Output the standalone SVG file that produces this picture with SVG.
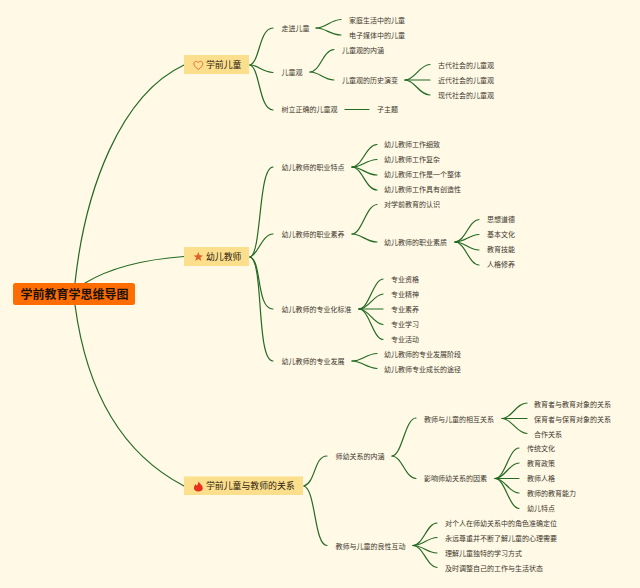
<svg xmlns="http://www.w3.org/2000/svg" width="640" height="588" viewBox="0 0 640 588">
<style>
text{font-family:"Noto Sans CJK SC","Noto Sans",sans-serif;dominant-baseline:central;transform:translateY(-.8px)}
.t0{font-size:12px;font-weight:700;fill:#1c1206}
.t1{font-size:8.9px;fill:#2e2010}
.t2{font-size:7px;fill:#3d372c}
.b1{fill:#fbdf8c}
#connectors path{fill:none;stroke:#236a23;stroke-width:1.200;stroke-linecap:round}
</style>
<rect width="640" height="588" fill="#fff9e6"/>
<g id="connectors">
<path d="M75 283C85 190 120 95 184 65"/>
<path d="M85 283C115 265 150 259 184 256.500"/>
<path d="M75 305C85 380 115 450 184 486"/>
<path d="M250 65C260 62 259 28 273 28"/>
<path d="M250 65C258 65 262 72 273 72.500"/>
<path d="M250 65C260 68 259 110 273 110"/>
<path d="M250 257C262 254 258 167 273 167"/>
<path d="M250 257C258 255 262 234 273 234"/>
<path d="M250 257C262 260 256 309 273 309"/>
<path d="M250 257C264 260 256 361 273 361"/>
<path d="M304 486C316 482 314 456 327 456"/>
<path d="M304 486C316 490 314 545 327 545.500"/>
<path d="M316 28C326 28 330 20 341 19.500"/>
<path d="M316 28C326 28 330 35 341 35"/>
<path d="M310 72C320 72 323 50 334 49.500"/>
<path d="M310 72C320 72 323 80 334 80"/>
<path d="M345 109.500L369 109.500"/>
<path d="M405 80C415 80 419 65 430 64.500"/>
<path d="M405 80L430 80"/>
<path d="M405 80C415 80 419 95 430 95"/>
<path d="M352 167C362 167 366 145 377 144.500"/>
<path d="M352 167C362 167 366 160 377 159.500"/>
<path d="M352 167C362 167 366 175 377 175"/>
<path d="M352 167C362 167 366 190 377 190"/>
<path d="M352 234C362 234 366 205 377 204.500"/>
<path d="M352 234C362 234 366 242 377 242"/>
<path d="M455 242C465 242 469 220 479 219.500"/>
<path d="M455 242C465 242 469 235 479 234.500"/>
<path d="M455 242C465 242 469 250 479 250"/>
<path d="M455 242C465 242 469 265 479 265"/>
<path d="M359 309C369 309 373 280 383 279"/>
<path d="M359 309C369 309 373 295 383 294"/>
<path d="M359 309L383 309"/>
<path d="M359 309C369 309 373 324 383 324.500"/>
<path d="M359 309C369 309 373 339 383 339.500"/>
<path d="M352 361C362 361 366 354 377 353.500"/>
<path d="M352 361C362 361 366 368 377 368.500"/>
<path d="M392 456C402 456 405 418 416 418"/>
<path d="M392 456C402 456 405 478 416 478.500"/>
<path d="M502 418.500C512 418.500 516 403 527 403"/>
<path d="M502 418.500L527 418.500"/>
<path d="M502 418.500C512 418.500 516 433 527 433.500"/>
<path d="M495 478.500C505 478.500 509 448 519 448"/>
<path d="M495 478.500C505 478.500 509 463 519 463"/>
<path d="M495 478.500L519 478.500"/>
<path d="M495 478.500C505 478.500 509 493 519 493"/>
<path d="M495 478.500C505 478.500 509 508 519 508.500"/>
<path d="M413 545.500C423 545.500 427 523 437 523"/>
<path d="M413 545.500C423 545.500 427 538 437 537.500"/>
<path d="M413 545.500C423 545.500 427 553 437 553"/>
<path d="M413 545.500C423 545.500 427 567 437 567.500"/>
</g>
<g id="root"><rect x="13" y="283" width="122" height="22" rx="2.500" fill="#ff6d00"/><text class="t0" x="20.500" y="294.500">学前教育学思维导图</text></g>
<g id="topic1"><rect class="b1" x="184" y="55" width="65" height="19"/><path d="M198.300 69.500C195 67 193.600 65.300 193.900 63.200C194.200 61.200 197 60.500 198.300 62.600C199.600 60.500 202.400 61.200 202.700 63.200C203 65.300 201.600 67 198.300 69.500Z" fill="none" stroke="#e2572a" stroke-width=".8"/><text class="t1" x="206" y="65.500">学前儿童</text></g>
<g id="topic2"><rect class="b1" x="184" y="247" width="65" height="19"/><path d="M198.300 252L199.600 255.200L203 255.400L200.400 257.600L201.300 261L198.300 259.100L195.300 261L196.200 257.600L193.600 255.400L197 255.200Z" fill="#e0622a"/><text class="t1" x="206" y="257">幼儿教师</text></g>
<g id="topic3"><rect class="b1" x="184" y="476.500" width="119" height="18.500"/><path d="M198.500 481C199 483.500 203 485 202.800 488.500C202.600 490.500 200.800 491.500 198.300 491.500C195.800 491.500 194 490.300 193.900 488.300C193.800 486.400 195 485.300 195.600 484C196.200 484.700 196.500 485.300 196.800 485.800C197.800 484.500 198.500 483 198.500 481Z" fill="#e9301c"/><text class="t1" x="206" y="486">学前儿童与教师的关系</text></g>
<g id="n1"><text class="t2" x="281.500" y="28.500">走进儿童</text></g>
<g id="n2"><text class="t2" x="281.500" y="72.500">儿童观</text></g>
<g id="n3"><text class="t2" x="281.500" y="110">树立正确的儿童观</text></g>
<g id="n4"><text class="t2" x="349" y="20.500">家庭生活中的儿童</text></g>
<g id="n5"><text class="t2" x="349" y="35.500">电子媒体中的儿童</text></g>
<g id="n6"><text class="t2" x="342" y="50.500">儿童观的内涵</text></g>
<g id="n7"><text class="t2" x="342" y="80.500">儿童观的历史演变</text></g>
<g id="n8"><text class="t2" x="438" y="65.500">古代社会的儿童观</text></g>
<g id="n9"><text class="t2" x="438" y="80.500">近代社会的儿童观</text></g>
<g id="n10"><text class="t2" x="438" y="95.500">现代社会的儿童观</text></g>
<g id="n11"><text class="t2" x="377" y="110">子主题</text></g>
<g id="n12"><text class="t2" x="281.500" y="167.500">幼儿教师的职业特点</text></g>
<g id="n13"><text class="t2" x="281.500" y="234.500">幼儿教师的职业素养</text></g>
<g id="n14"><text class="t2" x="281.500" y="309.500">幼儿教师的专业化标准</text></g>
<g id="n15"><text class="t2" x="281.500" y="361.500">幼儿教师的专业发展</text></g>
<g id="n16"><text class="t2" x="384" y="145">幼儿教师工作细致</text></g>
<g id="n17"><text class="t2" x="384" y="160">幼儿教师工作复杂</text></g>
<g id="n18"><text class="t2" x="384" y="175">幼儿教师工作是一个整体</text></g>
<g id="n19"><text class="t2" x="384" y="190">幼儿教师工作具有创造性</text></g>
<g id="n20"><text class="t2" x="384" y="205">对学前教育的认识</text></g>
<g id="n21"><text class="t2" x="384" y="242.500">幼儿教师的职业素质</text></g>
<g id="n22"><text class="t2" x="487" y="220">思想道德</text></g>
<g id="n23"><text class="t2" x="487" y="235">基本文化</text></g>
<g id="n24"><text class="t2" x="487" y="250">教育技能</text></g>
<g id="n25"><text class="t2" x="487" y="265">人格修养</text></g>
<g id="n26"><text class="t2" x="391" y="280">专业资格</text></g>
<g id="n27"><text class="t2" x="391" y="295">专业精神</text></g>
<g id="n28"><text class="t2" x="391" y="310">专业素养</text></g>
<g id="n29"><text class="t2" x="391" y="325">专业学习</text></g>
<g id="n30"><text class="t2" x="391" y="340">专业活动</text></g>
<g id="n31"><text class="t2" x="384" y="355">幼儿教师的专业发展阶段</text></g>
<g id="n32"><text class="t2" x="384" y="369.500">幼儿教师专业成长的途径</text></g>
<g id="n33"><text class="t2" x="335.500" y="457">师幼关系的内涵</text></g>
<g id="n34"><text class="t2" x="335.500" y="546.500">教师与儿童的良性互动</text></g>
<g id="n35"><text class="t2" x="424" y="419.500">教师与儿童的相互关系</text></g>
<g id="n36"><text class="t2" x="424" y="479">影响师幼关系的因素</text></g>
<g id="n37"><text class="t2" x="534" y="404.500">教育者与教育对象的关系</text></g>
<g id="n38"><text class="t2" x="534" y="419.500">保育者与保育对象的关系</text></g>
<g id="n39"><text class="t2" x="534" y="434.500">合作关系</text></g>
<g id="n40"><text class="t2" x="527" y="449">传统文化</text></g>
<g id="n41"><text class="t2" x="527" y="464">教育政策</text></g>
<g id="n42"><text class="t2" x="527" y="479">教师人格</text></g>
<g id="n43"><text class="t2" x="527" y="494">教师的教育能力</text></g>
<g id="n44"><text class="t2" x="527" y="509">幼儿特点</text></g>
<g id="n45"><text class="t2" x="445" y="524">对个人在师幼关系中的角色准确定位</text></g>
<g id="n46"><text class="t2" x="445" y="539">永远尊重并不断了解儿童的心理需要</text></g>
<g id="n47"><text class="t2" x="445" y="554">理解儿童独特的学习方式</text></g>
<g id="n48"><text class="t2" x="445" y="569">及时调整自己的工作与生活状态</text></g>
</svg>
